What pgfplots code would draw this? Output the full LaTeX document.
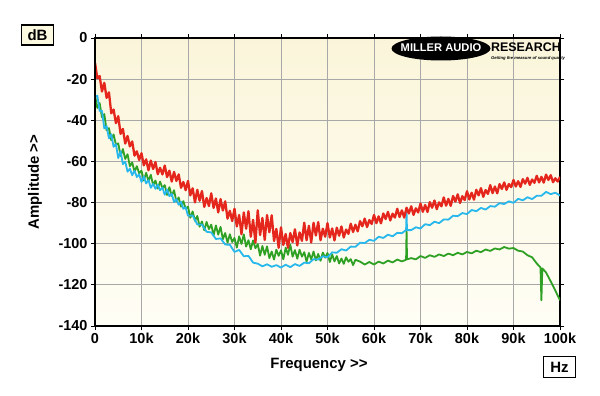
\documentclass[border=0pt]{standalone}
\usepackage{fontspec}
\setmainfont{Liberation Sans}
\usepackage{pgfplots}
\pgfplotsset{compat=1.18}
\definecolor{cred}{RGB}{228,38,28}
\definecolor{cgreen}{RGB}{46,160,36}
\definecolor{ccyan}{RGB}{40,184,236}
\definecolor{gridc}{RGB}{168,168,168}
\definecolor{bgtop}{RGB}{250,245,218}
\definecolor{bgbot}{RGB}{255,254,245}
\definecolor{boxfill}{RGB}{252,249,225}
\begin{document}
\begin{tikzpicture}
\path[use as bounding box] (-95bp,-70bp) rectangle (505bp,326bp);
\begin{axis}[
  at={(0bp,0bp)}, anchor=south west,
  scale only axis, width=465bp, height=288bp,
  xmin=0, xmax=100, ymin=-140, ymax=0,
  xtick={0,10,...,100}, xticklabels={0,10k,20k,30k,40k,50k,60k,70k,80k,90k,100k},
  ytick={-140,-120,...,0}, yticklabels={-140,-120,-100,-80,-60,-40,-20,0},
  grid=major, major grid style={gridc, line width=1bp},
  tick align=outside, major tick length=4bp, tick style={black, line width=0.8bp},
  axis line style={black, line width=1.2bp},
  ticklabel style={font=\bfseries\fontsize{14.5}{16}\selectfont},
  axis background/.style={top color=bgtop, bottom color=bgbot},
  every axis plot/.append style={line join=round},
]
% green
\addplot[cgreen, line width=1.8bp] coordinates {
(0,-27.8)(0.5,-34)(1,-31.6)(1.5,-38.5)(2,-37)(2.5,-44.9)(3,-43.8)(3.5,-49.7)(4,-46.9)(4.5,-51.9)
(5,-51.2)(5.5,-57.3)(6,-54)(6.5,-58.8)(7,-56.5)(7.5,-62.3)(8,-60.5)(8.5,-65)(9,-62.3)(9.5,-65.8)
(10,-64.5)(10.5,-69.3)(11,-65.5)(11.5,-69.5)(12,-66.5)(12.5,-71.6)(13,-69.3)(13.5,-73.2)(14,-69.8)(14.5,-73)
(15,-71.5)(15.5,-76.3)(16,-72.5)(16.5,-76.8)(17,-74)(17.5,-79.5)(18,-77.5)(18.5,-82)(19,-79.3)(19.5,-83)
(20,-82)(20.5,-87.4)(21,-84.3)(21.5,-88.9)(22,-86.5)(22.5,-91.7)(23,-89.2)(23.5,-93.5)(24,-89.4)(24.5,-92.9)
(25,-90.7)(25.5,-96)(26,-91.1)(26.5,-95.6)(27,-91.8)(27.5,-97.8)(28,-94.8)(28.5,-99.5)(29,-95.4)(29.5,-99.2)
(30,-97.2)(30.5,-101.9)(31,-96.4)(31.5,-100.1)(32,-95.5)(32.5,-101.4)(33,-98.3)(33.5,-102.7)(34,-98.4)(34.5,-102.2)
(35,-100.2)(35.5,-105.8)(36,-101.1)(36.5,-105.4)(37,-101.3)(37.5,-107)(38,-103.8)(38.5,-107.7)(39,-102.9)(39.5,-105.9)
(40,-103.2)(40.5,-107.6)(41,-101.9)(41.5,-105.4)(42,-100.5)(42.5,-106.3)(43,-103.1)(43.5,-107.3)(44,-102.9)(44.5,-106.3)
(45,-104.1)(45.5,-108.7)(46,-104.5)(46.5,-107.6)(47,-103.8)(47.5,-108.1)(48,-105)(48.5,-108.3)(49,-104.3)(49.5,-106.8)
(50,-104.5)(50.5,-108.9)(51,-105.2)(51.5,-108.6)(52,-106)(52.5,-109.6)(53,-107.2)(53.5,-109.8)(54,-106.6)(54.5,-108.8)
(55,-107.5)(55.5,-110.4)(56,-107.8)(57,-108.7)(58,-110.1)(59,-108.9)(60,-110.1)(61,-108.7)(62,-109.6)(63,-108.2)
(64,-109.1)(65,-107.7)(66,-108.6)(66.9,-107.8)(67,-93)(67.1,-107.6)(68,-107)(69,-107.6)(70,-106)(71,-106.9)
(72,-105.6)(73,-106.4)(74,-105.2)(75,-106)(76,-104.8)(77,-105.6)(78,-104.4)(79,-105.2)(80,-104)(81,-104.7)
(82,-103.4)(83,-104.1)(84,-102.8)(85,-103.5)(86,-102.3)(87,-102.8)(88,-101.6)(89,-102.4)(90,-102.1)(91,-103.4)
(92,-103.8)(93,-105.6)(94,-106.6)(95,-109.6)(95.8,-111.5)(96,-127.5)(96.2,-112)(97,-114)(98,-118.3)(99,-122.8)(100,-127.5)
};
% cyan
\addplot[ccyan, line width=1.8bp] coordinates {
(0,-28.6)(0.5,-28)(1,-35.5)(1.5,-35.4)(2,-44)(2.5,-42.8)(3,-48.8)(3.5,-46.8)(4,-52.9)(4.5,-51.6)
(5,-58.4)(5.5,-55)(6,-61.3)(6.5,-60.1)(7,-65)(7.5,-63.5)(8,-66.7)(8.5,-64.5)(9,-67.6)(9.5,-66.2)
(10,-70)(10.5,-67.3)(11,-70.7)(11.5,-69.1)(12,-72.8)(12.5,-70.9)(13,-73.3)(13.5,-71.3)(14,-74)(14.5,-72.7)
(15,-76.2)(15.5,-73.6)(16,-76.9)(16.5,-75.7)(17,-79.8)(17.5,-78.3)(18,-81.1)(18.5,-79.6)(19,-83)(19.5,-82.3)
(20,-86.4)(21,-86.3)(22,-90.6)(23,-90.7)(24,-94.2)(25,-94.5)(26,-97.7)(27,-97.4)(28,-100.4)(29,-100.5)
(30,-104)(31,-103)(32,-106.1)(33,-105.9)(34,-109.2)(35,-109.7)(36,-111)(37,-110)(38,-111.2)(39,-110.4)
(40,-111.6)(41,-110.2)(42,-111.4)(43,-109.9)(44,-110.8)(45,-109.2)(46,-109.5)(47,-107.5)(48,-107.7)(49,-106.1)
(50,-106.6)(51,-104.2)(52,-104.4)(53,-102.7)(54,-103.3)(55,-101.4)(56,-101.5)(57,-99.5)(58,-99.7)(59,-98.1)
(60,-98.6)(61,-96.6)(62,-97.2)(63,-95.6)(64,-96.4)(65,-94.7)(66,-94.9)(66.9,-93.3)(67,-85)(67.1,-93.4)
(68,-93.4)(69,-92)(70,-92.6)(71,-90.5)(72,-91)(73,-89.3)(74,-90)(75,-88.2)(76,-88.3)(77,-86.4)
(78,-86.6)(79,-85.1)(80,-85.6)(81,-83.6)(82,-84.2)(83,-82.6)(84,-83.4)(85,-81.7)(86,-82)(87,-80.3)
(88,-80.7)(89,-79.4)(90,-80.1)(91,-78.2)(92,-78.9)(93,-77.4)(94,-78.3)(95,-76.7)(96,-76.7)(97,-74.8)
(98,-75.9)(99,-75.2)(100,-76.6)
};
% red
\addplot[cred, line width=2.3bp] coordinates {
(0,-12)(0.5,-19.6)(1,-18.5)(1.5,-26)(2,-21.8)(2.5,-29.1)(3,-26.4)(3.5,-36.6)(4,-34.8)(4.5,-41.4)
(5,-38)(5.5,-46.6)(6,-44.2)(6.5,-51.3)(7,-47.6)(7.5,-52.7)(8,-50.3)(8.5,-57.2)(9,-55.1)(9.5,-59.3)
(10,-56)(10.5,-61.9)(11,-59)(11.5,-64.3)(12,-59.6)(12.5,-63.7)(13,-60.3)(13.5,-66.2)(14,-63.1)(14.5,-66.3)
(15,-62)(15.5,-67.6)(16,-64.5)(16.5,-69.8)(17,-65.1)(17.5,-69.5)(18,-66.3)(18.5,-72.8)(19,-70)(19.5,-74)
(20,-69.5)(20.5,-76.5)(21,-73.1)(21.5,-79.9)(22,-73.8)(22.5,-79.1)(23,-74.4)(23.5,-82.1)(24,-77.8)(24.5,-81.7)
(25,-75.5)(25.5,-82.6)(26,-78)(26.5,-84.8)(27,-78.3)(27.5,-83.9)(28,-79.4)(28.5,-87.8)(29,-84)(29.5,-89)
(30,-83)(30.5,-91.6)(31,-86)(31.5,-95.4)(32,-84.8)(32.5,-92.7)(33,-84.2)(33.5,-96.6)(34,-88.4)(34.5,-99.5)
(35,-83.8)(35.5,-95.8)(36,-87.5)(36.5,-98.2)(37,-86.1)(37.5,-94.4)(38,-86.2)(38.5,-98.7)(39,-92.8)(39.5,-102)
(40,-92)(40.5,-100.6)(41,-95.3)(41.5,-102)(42,-94.8)(42.5,-99.2)(43,-93)(43.5,-100.8)(44,-94.5)(44.5,-98.6)
(45,-89.8)(45.5,-98.3)(46,-91.3)(46.5,-99.4)(47,-89.8)(47.5,-96)(48,-89.5)(48.5,-98.3)(49,-92.7)(49.5,-96.6)
(50,-90)(50.5,-97)(51,-92.6)(51.5,-98.4)(52,-92.2)(52.5,-96.1)(53,-91.6)(53.5,-97)(54,-93.1)(54.5,-95.2)
(55,-90.3)(55.5,-94.3)(56,-90.8)(56.5,-94)(57,-89)(57.5,-91.5)(58,-87.8)(58.5,-91.9)(59,-88.5)(59.5,-90.4)
(60,-86)(60.5,-90)(61,-86.7)(61.5,-90.1)(62,-85.3)(62.5,-88)(63,-84.5)(63.5,-88.7)(64,-85.4)(64.5,-87.3)
(65,-83)(65.5,-87)(66,-83.8)(66.5,-87.3)(67,-82.5)(67.5,-85.3)(68,-81.8)(68.5,-86)(69,-82.8)(69.5,-84.8)
(70,-80.5)(70.5,-84.5)(71,-81.2)(71.5,-84.6)(72,-79.8)(72.5,-82.5)(73,-79)(73.5,-83.2)(74,-79.9)(74.5,-81.8)
(75,-77.5)(75.5,-81.5)(76,-78.2)(76.5,-81.6)(77,-76.8)(77.5,-79.5)(78,-76)(78.5,-80.2)(79,-76.9)(79.5,-78.8)
(80,-74.5)(80.5,-78.5)(81,-75.2)(81.5,-78.6)(82,-73.8)(82.5,-76.5)(83,-73)(83.5,-77.2)(84,-73.9)(84.5,-75.8)
(85,-71.5)(85.5,-75.4)(86,-72.2)(86.5,-75.5)(87,-71)(87.5,-73.4)(88,-70.2)(88.5,-73.8)(89,-71)(89.5,-72.5)
(90,-69)(90.5,-72.2)(91,-69.6)(91.5,-72.4)(92,-68.6)(92.5,-70.8)(93,-68)(93.5,-71.4)(94,-68.8)(94.5,-70.4)
(95,-67)(95.5,-70.2)(96,-67.5)(96.5,-70.3)(97,-66.4)(97.5,-69)(98,-66.7)(98.5,-70.1)(99,-68.2)(99.5,-69.8)
(100,-67.5)
};
\draw[black, line width=2bp] (rel axis cs:0,1) -- (rel axis cs:0,0) -- (rel axis cs:1,0);
\end{axis}
% logo
\fill[black] (346bp,277.5bp) ellipse [x radius=49.5bp, y radius=12bp];
\node[text=white, font=\bfseries\fontsize{11.2}{12}\selectfont, inner sep=0pt] at (346bp,278.5bp) {MILLER AUDIO};
\node[text=black, font=\bfseries\fontsize{12.5}{13}\selectfont, inner sep=0pt] at (431bp,279bp) {RESEARCH};
\node[text=black, font=\bfseries\itshape\fontsize{4.2}{5}\selectfont, inner sep=0pt] at (433bp,267.5bp) {Getting the measure of sound quality};
% labels
\node[font=\bfseries\fontsize{15}{16}\selectfont] at (224bp,-39bp) {Frequency >\kern0pt>};
\node[font=\bfseries\fontsize{15}{16}\selectfont, rotate=90] at (-60bp,144bp) {Amplitude >\kern0pt>};
\node[draw=black, line width=1.2bp, fill=boxfill, minimum width=32bp, minimum height=20bp, inner sep=0pt, font=\bfseries\fontsize{15}{16}\selectfont] at (-57.5bp,291bp) {dB};
\node[draw=black, line width=1.2bp, fill=white, minimum width=32bp, minimum height=21bp, inner sep=0pt, font=\bfseries\fontsize{15}{16}\selectfont] at (464.5bp,-41bp) {Hz};
\end{tikzpicture}
\end{document}
